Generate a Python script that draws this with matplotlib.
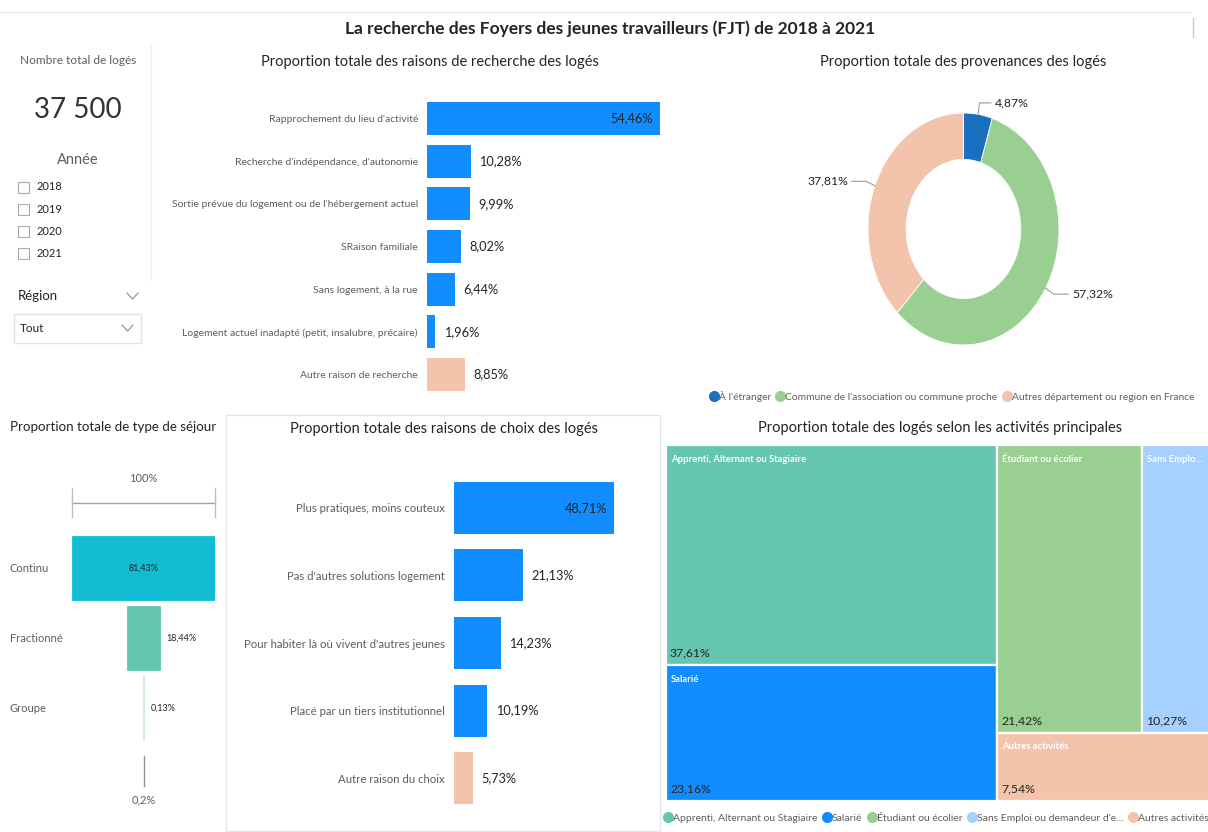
import numpy as np
import matplotlib
matplotlib.use("Agg")
import matplotlib.pyplot as plt
from matplotlib.patches import Rectangle
from matplotlib.lines import Line2D
import matplotlib.transforms as mtransforms

plt.rcParams['font.family'] = ['Lato', 'DejaVu Sans']

# ---------------- data ----------------
title = "La recherche des Foyers des jeunes travailleurs (FJT) de 2018 à 2021"
total_loges = "37 500"
annees = ["2018", "2019", "2020", "2021"]
region_value = "Tout"

recherche_labels = ["Rapprochement du lieu d'activité",
                    "Recherche d'indépendance, d'autonomie",
                    "Sortie prévue du logement ou de l'hébergement actuel",
                    "SRaison familiale",
                    "Sans logement, à la rue",
                    "Logement actuel inadapté (petit, insalubre, précaire)",
                    "Autre raison de recherche"]
recherche_values = [54.46, 10.28, 9.99, 8.02, 6.44, 1.96, 8.85]

provenance_labels = ["À l'étranger",
                     "Commune de l'association ou commune proche",
                     "Autres département ou region en France"]
provenance_values = [4.87, 57.32, 37.81]

sejour_labels = ["Continu", "Fractionné", "Groupe"]
sejour_values = [81.43, 18.44, 0.13]

choix_labels = ["Plus pratiques, moins couteux",
                "Pas d'autres solutions logement",
                "Pour habiter là où vivent d'autres jeunes",
                "Placé par un tiers institutionnel",
                "Autre raison du choix"]
choix_values = [48.71, 21.13, 14.23, 10.19, 5.73]

activite_labels = ["Apprenti, Alternant ou Stagiaire", "Salarié",
                   "Étudiant ou écolier", "Sans Emploi ou demandeur d'emploi",
                   "Autres activités"]
activite_values = [37.61, 23.16, 21.42, 10.27, 7.54]

# ---------------- style ----------------
BLUE = "#118DFF"
SALMON = "#F3C3AC"
DARK = "#252423"
GRAY = "#605E5C"
prov_colors = ["#1A6FBF", "#99CF91", SALMON]
sejour_colors = ["#12BCD2", "#64C5B1", "#CFEBD0"]
act_colors = ["#64C5B1", BLUE, "#99CF91", "#A5D0FF", SALMON]

W, H = 1208, 832
fig = plt.figure(figsize=(W / 100, H / 100), dpi=100)
fig.patch.set_facecolor("white")


def fr(v, d=2):
    return f"{v:.{d}f}".replace(".", ",") + "%"


def trunc(s, n, limit=None):
    limit = n if limit is None else limit
    return s if len(s) <= limit else s[:n] + "..."


def pax(x0, y0, x1, y1):
    ax = fig.add_axes([x0 / W, 1 - y1 / H, (x1 - x0) / W, (y1 - y0) / H])
    ax.patch.set_alpha(0)
    for s in ax.spines.values():
        s.set_visible(False)
    return ax


def ftext(x, y, s, **kw):
    kw.setdefault("va", "center")
    return fig.text(x / W, 1 - y / H, s, **kw)


def fline(xs, ys, **kw):
    fig.add_artist(Line2D([x / W for x in xs], [1 - y / H for y in ys], **kw))


def frect(x0, y0, x1, y1, **kw):
    fig.add_artist(Rectangle((x0 / W, 1 - y1 / H), (x1 - x0) / W, (y1 - y0) / H,
                             transform=fig.transFigure, **kw))


# ---------------- header ----------------
fline([0, 1190], [12, 12], color="#EAEAEA", lw=1)
fline([1193, 1193], [18, 37], color="#C8C8C8", lw=1)
ftext(610, 29, title, ha="center", fontsize=12.5, fontweight="bold", color=DARK)

# ---------------- left slicers ----------------
ftext(78, 60, "Nombre total de logés", ha="center", fontsize=8.6, color=GRAY)
ftext(78, 110, total_loges, ha="center", fontsize=20, color="#333333", fontweight="normal")
ftext(78, 160, "Année", ha="center", fontsize=10.5, color=GRAY)
for i, a in enumerate(annees):
    yy = 187 + 22.3 * i
    frect(18, yy - 5.5, 29, yy + 5.5, fill=False, edgecolor="#A8A8A8", lw=0.8)
    ftext(37, yy, a, fontsize=8, color=DARK)
fline([151, 151], [45, 280], color="#EEEEEE", lw=1)
ftext(18, 296, "Région", fontsize=9.5, color=DARK)
fline([127, 132.5, 138], [293, 299, 293], color="#8A8A8A", lw=0.8)
frect(14, 314, 141, 343, fill=False, edgecolor="#E2E2E2", lw=1)
ftext(20, 329, region_value, fontsize=8.5, color=DARK)
fline([122, 127.5, 133], [325, 331, 325], color="#8A8A8A", lw=0.8)


# ---------------- horizontal bar charts ----------------
def hbar(ax, labels, values, lab_fs, val_fs, pad):
    n = len(values)
    y = np.arange(n)
    cols = [SALMON if l.startswith("Autre") else BLUE for l in labels]
    ax.barh(y, values, height=0.77, color=cols)
    ax.set_xlim(0, max(values))
    ax.set_ylim(n - 0.5, -0.5)
    ax.set_xticks([])
    ax.set_yticks(y, labels, fontsize=lab_fs, color=GRAY)
    ax.tick_params(axis="y", length=0, pad=pad)
    for yi, v in zip(y, values):
        if v > 0.5 * max(values):
            ax.annotate(fr(v), (v, yi), xytext=(-5, 0), textcoords="offset points",
                        ha="right", va="center", fontsize=val_fs, color=DARK)
        else:
            ax.annotate(fr(v), (v, yi), xytext=(6, 0), textcoords="offset points",
                        ha="left", va="center", fontsize=val_fs, color=DARK)


ftext(430, 62, "Proportion totale des raisons de recherche des logés", ha="center",
      fontsize=10.5, color=DARK)
ax1 = pax(427, 97, 660, 396)
hbar(ax1, recherche_labels, recherche_values, 7.5, 9.2, 6.5)

frect(226, 415, 660, 831, fill=False, edgecolor="#E6E6E6", lw=1)
ftext(444, 429, "Proportion totale des raisons de choix des logés", ha="center",
      fontsize=10.5, color=DARK)
ax2 = pax(454, 474, 614, 812)
hbar(ax2, choix_labels, choix_values, 8.2, 9.2, 6.5)

# ---------------- funnel ----------------
ftext(113, 427, "Proportion totale de type de séjour", ha="center", fontsize=9.6, color=DARK)
ax3 = pax(72, 533, 215, 743)
m = max(sejour_values)
ys = np.arange(len(sejour_values))
ax3.barh(ys, sejour_values, left=[-v / 2 for v in sejour_values], height=0.91,
         color=sejour_colors, edgecolor=sejour_colors, linewidth=0.6)
ax3.set_xlim(-m / 2, m / 2)
ax3.set_ylim(len(sejour_values) - 0.5, -0.5)
ax3.set_xticks([])
ax3.set_yticks([])
blend = mtransforms.blended_transform_factory(fig.transFigure, ax3.transData)
for yi, (lab, v) in enumerate(zip(sejour_labels, sejour_values)):
    ax3.text(10 / W, yi, lab, transform=blend, ha="left", va="center", fontsize=8, color=GRAY)
    if v == m:
        ax3.text(0, yi, fr(v), ha="center", va="center", fontsize=6.5, color=DARK)
    else:
        ax3.annotate(fr(v), (v / 2, yi), xytext=(5, 0), textcoords="offset points",
                     ha="left", va="center", fontsize=6.5, color=DARK)
# top bracket (100%) and bottom conversion rate
top = -0.5 - 30 / 70
ax3.plot([-m / 2, m / 2], [top, top], color="#A0A0A0", lw=1, clip_on=False)
for xe in (-m / 2, m / 2):
    ax3.plot([xe, xe], [top - 15 / 70, top + 14 / 70], color="#C0C0C0", lw=1, clip_on=False)
ax3.text(0, top - 24 / 70, "100%", ha="center", va="center", fontsize=8, color=GRAY)
conv = sejour_values[-1] / sejour_values[0] * 100
bot = len(sejour_values) - 0.5
ax3.plot([0, 0], [bot + 13 / 70, bot + 43 / 70], color="#909090", lw=1, clip_on=False)
ax3.text(0, bot + 57 / 70, fr(conv, 1), ha="center", va="center", fontsize=8, color=GRAY)

# ---------------- donut ----------------
ftext(963, 62, "Proportion totale des provenances des logés", ha="center",
      fontsize=10.5, color=DARK)
ax4 = pax(868, 113, 1059, 345)
ax4.pie(provenance_values, colors=prov_colors, startangle=90, counterclock=False,
        radius=1, wedgeprops=dict(width=0.4, edgecolor="white", linewidth=0.6))
ax4.set_aspect("auto")
ax4.set_xlim(-1, 1)
ax4.set_ylim(-1, 1)
tot = sum(provenance_values)
cum = 0
for v in provenance_values:
    ang = np.deg2rad(90 - 360 * (cum + v / 2) / tot)
    cum += v
    px, py = np.cos(ang), np.sin(ang)
    ex, ey = 1.1 * px, 1.1 * py
    side = 1 if px >= 0 else -1
    hx = ex + side * (0.12 if abs(py) > 0.9 else 0.15)
    ax4.plot([px, ex, hx], [py, ey, ey], color="#9A9A9A", lw=0.8, clip_on=False)
    ax4.text(hx + side * 0.04, ey, fr(v), ha="left" if side > 0 else "right",
             va="center", fontsize=8.8, color=DARK)
h_prov = [Line2D([], [], marker="o", ls="", color=c, markersize=7) for c in prov_colors]
fig.legend(h_prov, provenance_labels, loc="center left", bbox_to_anchor=(709 / W, 1 - 396 / H),
           ncol=3, frameon=False, fontsize=7.4, handletextpad=0.05, columnspacing=0.45,
           handlelength=0.9, borderpad=0, borderaxespad=0, labelcolor=GRAY)

# ---------------- treemap ----------------
ftext(940, 428, "Proportion totale des logés selon les activités principales", ha="center",
      fontsize=10.5, color=DARK)
ax5 = pax(666, 445, 1211, 801)
ax5.set_xlim(0, 1)
ax5.set_ylim(1, 0)
ax5.set_xticks([])
ax5.set_yticks([])
v = activite_values
T = sum(v)
wl = (v[0] + v[1]) / T
ht = (v[2] + v[3]) / (v[2] + v[3] + v[4])
w2 = (1 - wl) * v[2] / (v[2] + v[3])
rects = [
    (0, 0, wl, v[0] / (v[0] + v[1])),
    (0, v[0] / (v[0] + v[1]), wl, v[1] / (v[0] + v[1])),
    (wl, 0, w2, ht),
    (wl + w2, 0, (1 - wl) - w2, ht),
    (wl, ht, 1 - wl, 1 - ht),
]
tile_names = [activite_labels[0], activite_labels[1], activite_labels[2],
              trunc(activite_labels[3], 10), activite_labels[4]]
px_w, px_h = 545, 356
for (x, y, w, h), c, name, val in zip(rects, act_colors, tile_names, v):
    ax5.add_patch(Rectangle((x, y), w, h, facecolor=c, edgecolor="white", lw=1.6))
    ax5.text(x + 5 / px_w, y + 14 / px_h, name, ha="left", va="center", fontsize=6.8,
             fontweight="bold", color="white", clip_on=True)
    ax5.text(x + 4 / px_w, y + h - 12 / px_h, fr(val), ha="left", va="center",
             fontsize=8.8, color=DARK)
leg_names = [trunc(l, 28, 32) for l in activite_labels]
h_act = [Line2D([], [], marker="o", ls="", color=c, markersize=7) for c in act_colors]
fig.legend(h_act, leg_names, loc="center left", bbox_to_anchor=(663 / W, 1 - 818 / H),
           ncol=5, frameon=False, fontsize=7.5, handletextpad=0.05, columnspacing=0.45,
           handlelength=0.9, borderpad=0, borderaxespad=0, labelcolor=GRAY)

fig.savefig("out.png", dpi=100, facecolor="white")
